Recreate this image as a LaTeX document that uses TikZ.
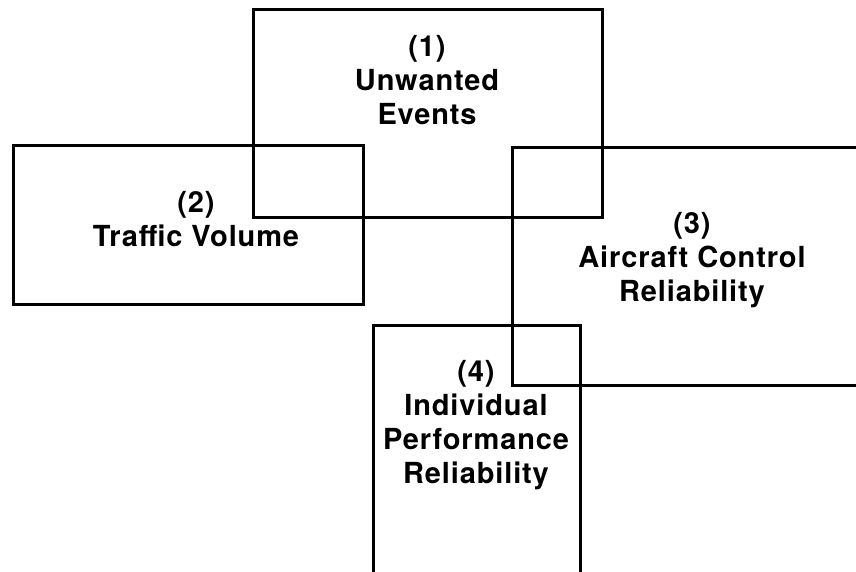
\documentclass[tikz,border=0pt]{standalone}
\usepackage{fontspec}
\setmainfont{TeX Gyre Heros}
\newfontfamily\boxfont{TeX Gyre Heros}[LetterSpace=3]
\usepackage{tikz}
\usetikzlibrary{positioning}

\begin{document}
\begin{tikzpicture}[
  x=1pt, y=-1pt,
  frame/.style={draw=black, line width=3pt},
  blocklabel/.style={font=\boxfont\fontsize{29}{34}\selectfont\bfseries, align=center, inner sep=0pt}
]
  \useasboundingbox (0,0) rectangle (856,571);
  \clip (0,0) rectangle (856,571);
  % overlapping factor boxes
  \draw[frame] (253,9) rectangle (602,217);
  \draw[frame] (13,145) rectangle (363,304);
  \draw[frame] (512,147) rectangle (880,385);
  \draw[frame] (373,325) rectangle (580,600);
  % labels
  \node[blocklabel] (unwanted) at (427,80) {(1)\\Unwanted\\Events};
  \node[blocklabel] (traffic) at (196,219) {(2)\\Traffic Volume};
  \node[blocklabel] (aircraft) at (692,260) {(3)\\Aircraft Control\\Reliability};
  \node[blocklabel] (individual) at (476,425) {(4)\\Individual\\Performance\\Reliability};
\end{tikzpicture}
\end{document}
